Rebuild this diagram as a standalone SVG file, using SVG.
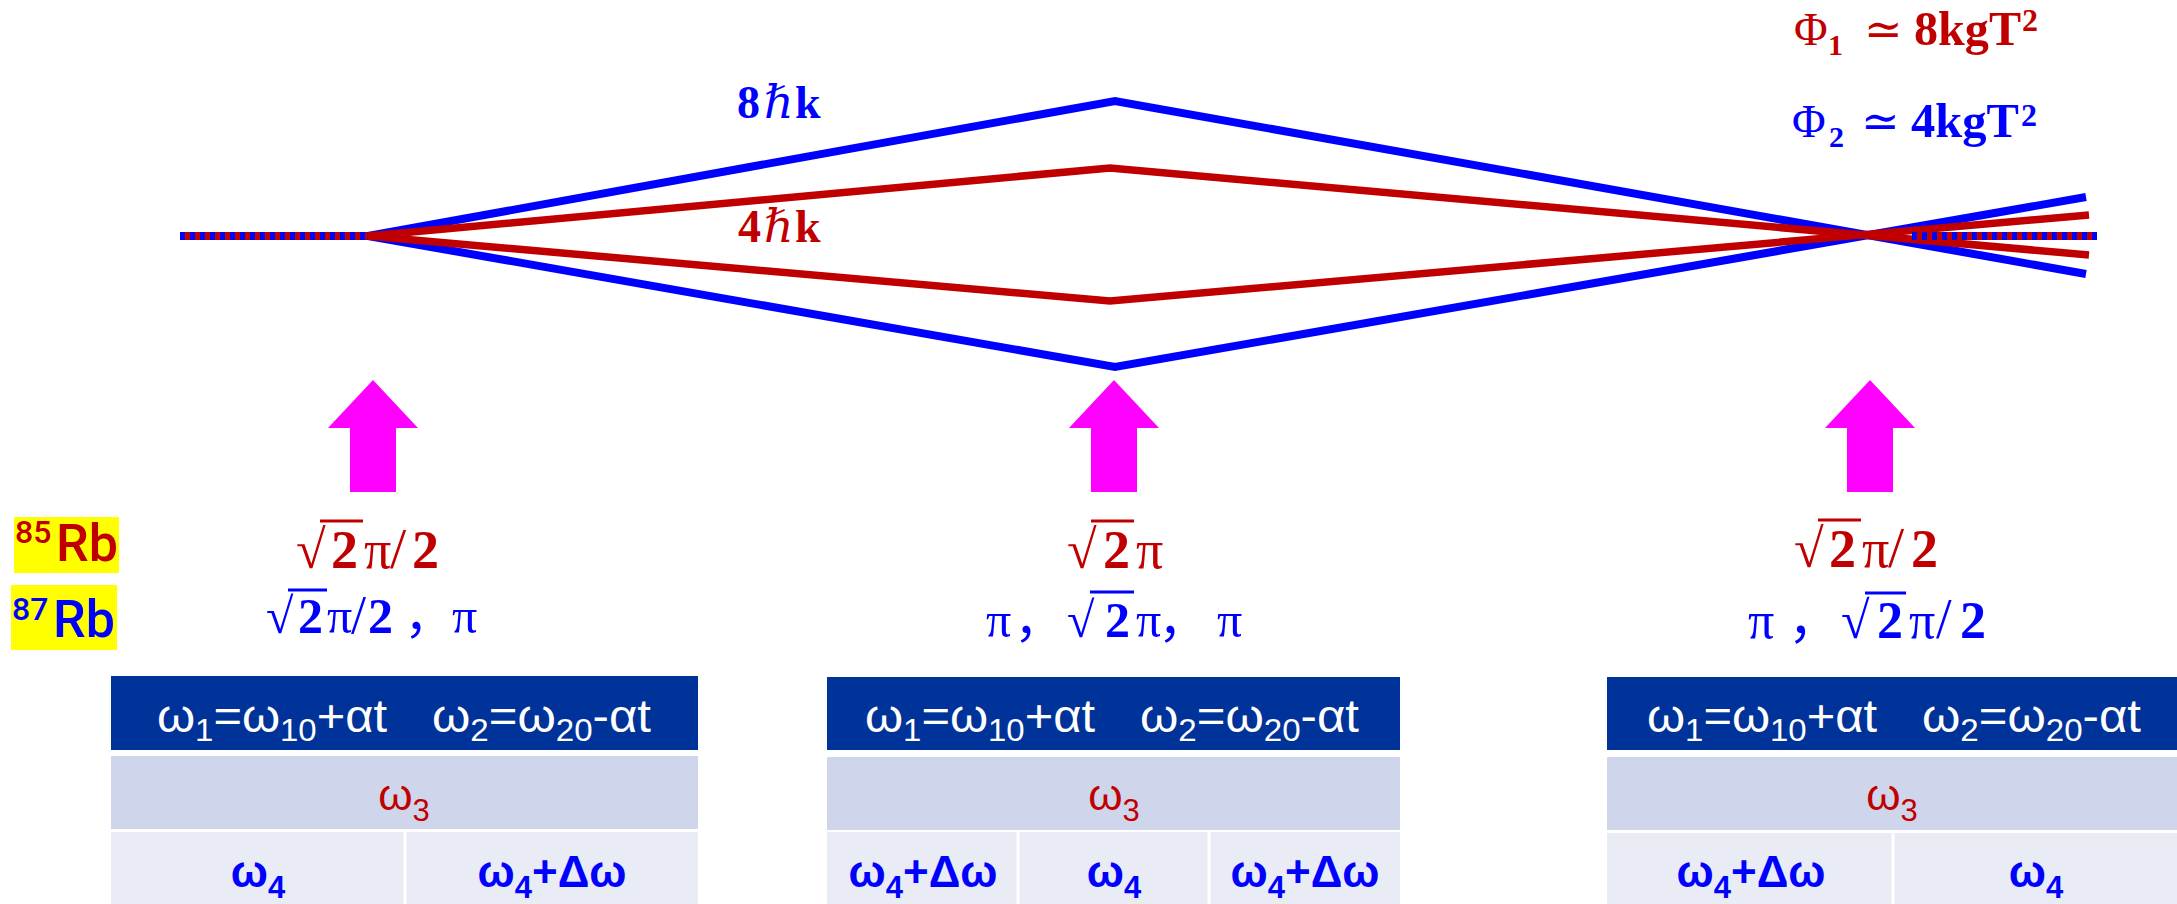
<svg xmlns="http://www.w3.org/2000/svg" width="2177" height="904" viewBox="0 0 2177 904">
<style>
.ser{font-family:"Liberation Serif","DejaVu Serif","Noto Sans CJK SC",serif}
.san{font-family:"Liberation Sans","DejaVu Sans",sans-serif}
.rob{font-family:Roboto,"Liberation Sans",sans-serif;font-weight:500}
.b{font-weight:bold}
.red{fill:#C00000}
.blu{fill:#0000FF}
.wht{fill:#FFFFFF}
.pathB{fill:none;stroke:#0000FF;stroke-width:8;stroke-linejoin:miter}
.pathR{fill:none;stroke:#C00000;stroke-width:7.5;stroke-linejoin:miter}
.vinR{stroke:#C00000;stroke-width:3}
.vinB{stroke:#0000FF;stroke-width:3}
.arrow{fill:#FF00FF}
.hdr{fill:#003399}
.r2{fill:#CFD5EA}
.r3{fill:#E9EBF5}
.div{stroke:#FFFFFF;stroke-width:3}
.cell{font-family:"Liberation Sans","DejaVu Sans",sans-serif;font-size:44px;text-anchor:middle}
</style>
<rect width="2177" height="904" fill="#FFFFFF"/>

<g id="connectors">
  <line x1="180" y1="236" x2="372" y2="236" stroke="#C00000" stroke-width="8"/>
  <line x1="180" y1="236" x2="372" y2="236" stroke="#0000FF" stroke-width="8" stroke-dasharray="5 5"/>
  <polyline class="pathB" points="368,236 1115,101 2086,274"/>
  <polyline class="pathB" points="368,236 1115,367 2086,197"/>
  <polyline class="pathR" points="368,236 1110,168 2089,255"/>
  <polyline class="pathR" points="368,236 1110,301 2089,215"/>
  <line x1="1912" y1="236" x2="2097" y2="236" stroke="#C00000" stroke-width="8"/>
  <line x1="1912" y1="236" x2="2097" y2="236" stroke="#0000FF" stroke-width="8" stroke-dasharray="5 5"/>
</g>

<g id="momentum-labels">
  <text class="ser b blu" y="118" font-size="46"><tspan x="737">8</tspan><tspan x="764" font-style="italic" font-weight="normal">ℏ</tspan><tspan x="795">k</tspan></text>
  <text class="ser b red" y="242" font-size="46"><tspan x="738">4</tspan><tspan x="764" font-style="italic" font-weight="normal">ℏ</tspan><tspan x="795">k</tspan></text>
</g>

<g id="phase-labels">
  <text class="ser red" font-size="46"><tspan x="1794" y="45">Φ</tspan><tspan x="1828" y="55" font-size="30" font-weight="bold">1</tspan><tspan x="1864" y="45">≃</tspan><tspan x="1914" y="45" font-weight="bold" font-size="48" textLength="107" lengthAdjust="spacingAndGlyphs">8kgT</tspan><tspan x="2022" y="31" font-size="32" font-weight="bold">2</tspan></text>
  <text class="ser blu" font-size="46"><tspan x="1792" y="137">Φ</tspan><tspan x="1829" y="147" font-size="30" font-weight="bold">2</tspan><tspan x="1861" y="137">≃</tspan><tspan x="1911" y="137" font-weight="bold" font-size="48" textLength="108" lengthAdjust="spacingAndGlyphs">4kgT</tspan><tspan x="2021" y="126" font-size="32" font-weight="bold">2</tspan></text>
</g>

<g id="pulse1">
  <polygon class="arrow" points="373,380 418,428 396,428 396,492 350,492 350,428 328,428"/>
</g>
<g id="pulse2">
  <polygon class="arrow" points="1114,380 1159,428 1137,428 1137,492 1091,492 1091,428 1069,428"/>
</g>
<g id="pulse3">
  <polygon class="arrow" points="1870,380 1915,428 1893,428 1893,492 1847,492 1847,428 1825,428"/>
</g>

<g id="rb85">
  <rect x="14" y="517" width="105" height="56" fill="#FFFF00"/>
  <text class="rob red"><tspan x="15" y="543" font-size="32">85</tspan><tspan x="56" y="561" font-size="52">Rb</tspan></text>
</g>
<g id="rb87">
  <rect x="11" y="585" width="106" height="65" fill="#FFFF00"/>
  <text class="rob blu"><tspan x="12" y="620" font-size="32">87</tspan><tspan x="53" y="637" font-size="52">Rb</tspan></text>
</g>

<g id="pulse1-labels">
  <text class="ser red" y="568" font-size="54"><tspan x="296">√</tspan><tspan x="331" class="b">2</tspan><tspan x="364">π</tspan><tspan x="390" font-size="58">/</tspan><tspan x="412" class="b">2</tspan></text>
  <line class="vinR" x1="320" y1="521" x2="363" y2="521"/>
  <text class="ser blu" y="633" font-size="50"><tspan x="266">√</tspan><tspan x="298" class="b">2</tspan><tspan x="327">π</tspan><tspan x="351" font-size="54">/</tspan><tspan x="368" class="b">2</tspan><tspan x="404">，</tspan><tspan x="452">π</tspan></text>
  <line class="vinB" x1="288" y1="590" x2="327" y2="590"/>
</g>

<g id="pulse2-labels">
  <text class="ser red" y="568" font-size="54"><tspan x="1067">√</tspan><tspan x="1103" class="b">2</tspan><tspan x="1136">π</tspan></text>
  <line class="vinR" x1="1091" y1="521" x2="1134" y2="521"/>
  <text class="ser blu" y="637" font-size="50"><tspan x="986">π</tspan><tspan x="1014">，</tspan><tspan x="1067">√</tspan><tspan x="1105" class="b">2</tspan><tspan x="1136">π</tspan><tspan x="1158">，</tspan><tspan x="1217">π</tspan></text>
  <line class="vinB" x1="1090" y1="592" x2="1134" y2="592"/>
</g>

<g id="pulse3-labels">
  <text class="ser red" y="567" font-size="54"><tspan x="1794">√</tspan><tspan x="1829" class="b">2</tspan><tspan x="1862">π</tspan><tspan x="1888" font-size="58">/</tspan><tspan x="1911" class="b">2</tspan></text>
  <line class="vinR" x1="1818" y1="520" x2="1861" y2="520"/>
  <text class="ser blu" y="638" font-size="52"><tspan x="1748">π</tspan><tspan x="1788">，</tspan><tspan x="1841">√</tspan><tspan x="1877" class="b">2</tspan><tspan x="1909">π</tspan><tspan x="1936" font-size="56">/</tspan><tspan x="1960" class="b">2</tspan></text>
  <line class="vinB" x1="1865" y1="593" x2="1906" y2="593"/>
</g>

<g id="table1">
  <rect class="hdr" x="111" y="676" width="587" height="74"/>
  <rect class="r2" x="111" y="756" width="587" height="73"/>
  <rect class="r3" x="111" y="832" width="587" height="72"/>
  <line class="div" x1="405" y1="832" x2="405" y2="904"/>
  <text class="san wht" x="157" y="732" font-size="46" textLength="230" lengthAdjust="spacingAndGlyphs">ω<tspan dy="9" font-size="31">1</tspan><tspan dy="-9">=ω</tspan><tspan dy="9" font-size="31">10</tspan><tspan dy="-9">+αt</tspan></text>
  <text class="san wht" x="432" y="732" font-size="46" textLength="219" lengthAdjust="spacingAndGlyphs">ω<tspan dy="9" font-size="31">2</tspan><tspan dy="-9">=ω</tspan><tspan dy="9" font-size="31">20</tspan><tspan dy="-9">-αt</tspan></text>
  <text class="cell red" x="404" y="810">ω<tspan dy="11" font-size="31">3</tspan></text>
  <text class="cell blu b" x="258" y="887">ω<tspan dy="11" font-size="31">4</tspan></text>
  <text class="cell blu b" x="552" y="887">ω<tspan dy="11" font-size="31">4</tspan><tspan dy="-11">+Δω</tspan></text>
</g>

<g id="table2">
  <rect class="hdr" x="827" y="677" width="573" height="73"/>
  <rect class="r2" x="827" y="757" width="573" height="73"/>
  <rect class="r3" x="827" y="832" width="573" height="72"/>
  <line class="div" x1="1018" y1="832" x2="1018" y2="904"/>
  <line class="div" x1="1209" y1="832" x2="1209" y2="904"/>
  <text class="san wht" x="865" y="732" font-size="46" textLength="230" lengthAdjust="spacingAndGlyphs">ω<tspan dy="9" font-size="31">1</tspan><tspan dy="-9">=ω</tspan><tspan dy="9" font-size="31">10</tspan><tspan dy="-9">+αt</tspan></text>
  <text class="san wht" x="1140" y="732" font-size="46" textLength="219" lengthAdjust="spacingAndGlyphs">ω<tspan dy="9" font-size="31">2</tspan><tspan dy="-9">=ω</tspan><tspan dy="9" font-size="31">20</tspan><tspan dy="-9">-αt</tspan></text>
  <text class="cell red" x="1114" y="810">ω<tspan dy="11" font-size="31">3</tspan></text>
  <text class="cell blu b" x="923" y="887">ω<tspan dy="11" font-size="31">4</tspan><tspan dy="-11">+Δω</tspan></text>
  <text class="cell blu b" x="1114" y="887">ω<tspan dy="11" font-size="31">4</tspan></text>
  <text class="cell blu b" x="1305" y="887">ω<tspan dy="11" font-size="31">4</tspan><tspan dy="-11">+Δω</tspan></text>
</g>

<g id="table3">
  <rect class="hdr" x="1607" y="677" width="570" height="73"/>
  <rect class="r2" x="1607" y="757" width="570" height="73"/>
  <rect class="r3" x="1607" y="833" width="570" height="71"/>
  <line class="div" x1="1893" y1="833" x2="1893" y2="904"/>
  <text class="san wht" x="1647" y="732" font-size="46" textLength="230" lengthAdjust="spacingAndGlyphs">ω<tspan dy="9" font-size="31">1</tspan><tspan dy="-9">=ω</tspan><tspan dy="9" font-size="31">10</tspan><tspan dy="-9">+αt</tspan></text>
  <text class="san wht" x="1922" y="732" font-size="46" textLength="219" lengthAdjust="spacingAndGlyphs">ω<tspan dy="9" font-size="31">2</tspan><tspan dy="-9">=ω</tspan><tspan dy="9" font-size="31">20</tspan><tspan dy="-9">-αt</tspan></text>
  <text class="cell red" x="1892" y="810">ω<tspan dy="11" font-size="31">3</tspan></text>
  <text class="cell blu b" x="1751" y="887">ω<tspan dy="11" font-size="31">4</tspan><tspan dy="-11">+Δω</tspan></text>
  <text class="cell blu b" x="2036" y="887">ω<tspan dy="11" font-size="31">4</tspan></text>
</g>
</svg>
